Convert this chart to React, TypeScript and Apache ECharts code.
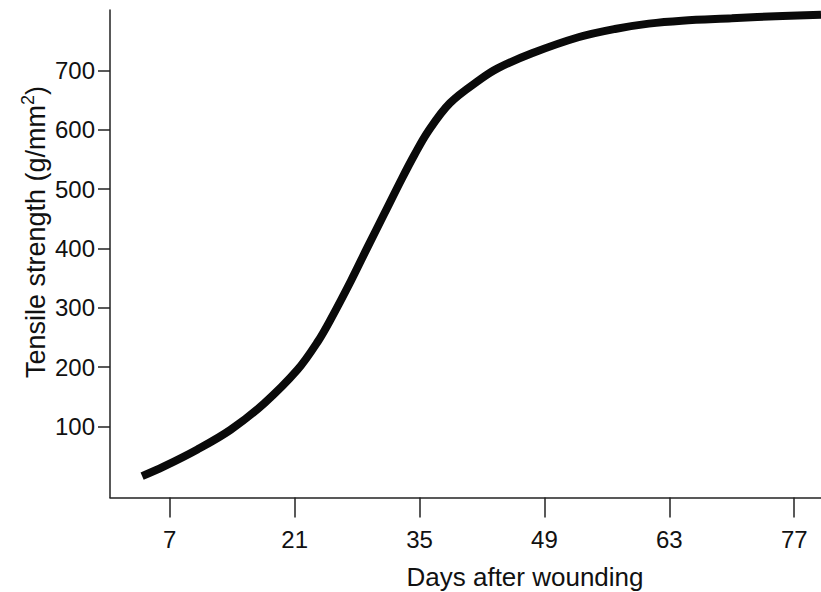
import React, { useEffect, useRef } from "react";
import * as echarts from "echarts";

const days = [3.9, 6.3, 10.1, 13.8, 17.6, 21.3, 23.6, 25.1, 27.3, 29.2, 31.1, 33.0, 34.4, 35.9, 38.4, 41.9, 43.8, 47.6, 52.8, 56.9, 60.7, 64.4, 70, 75.7, 80];
const strength = [16, 32, 61, 94, 139, 195, 243, 282, 345, 403, 460, 517, 557, 596, 645, 686, 704, 729, 756, 770, 779, 784, 788, 792, 794];
const xTicks = [7, 21, 35, 49, 63, 77];
const yTicks = [100, 200, 300, 400, 500, 600, 700];
const xTitle = "Days after wounding";
const yTitle = "Tensile strength (g/mm";

const FONT = "'Liberation Sans', Arial, Helvetica, sans-serif";

export default function App() {
  const ref = useRef<HTMLDivElement>(null);
  useEffect(() => {
    document.body.style.margin = "0";
    if (!ref.current) return;
    const chart = echarts.init(ref.current, null, { renderer: "svg" });
    chart.setOption({
      animation: false,
      backgroundColor: "#ffffff",
      grid: { left: 110, right: 0, top: 10, bottom: 94.5, containLabel: false },
      xAxis: {
        type: "value",
        min: 0.3,
        max: 80,
        axisLine: { show: true, onZero: false, lineStyle: { color: "#222", width: 1.5 } },
        axisTick: { show: true, customValues: xTicks, length: 20, lineStyle: { color: "#222", width: 1.5 } },
        axisLabel: { show: true, customValues: xTicks, margin: 30, fontSize: 24, color: "#111", fontFamily: FONT },
        splitLine: { show: false },
      },
      yAxis: {
        type: "value",
        min: -20,
        max: 802,
        axisLine: { show: true, onZero: false, lineStyle: { color: "#222", width: 1.5 } },
        axisTick: { show: true, customValues: yTicks, length: 12, lineStyle: { color: "#222", width: 1.5 } },
        axisLabel: { show: true, customValues: yTicks, margin: 15, fontSize: 24, color: "#111", fontFamily: FONT },
        splitLine: { show: false },
      },
      graphic: [
        {
          type: "text",
          x: 525,
          y: 577,
          style: {
            text: xTitle,
            fontSize: 26,
            fontFamily: FONT,
            fill: "#111",
            align: "center",
            verticalAlign: "middle",
          },
        },
        {
          type: "text",
          x: 34,
          y: 232,
          rotation: Math.PI / 2,
          style: {
            text: "{a|" + yTitle + "}{s|2}{a|)}",
            fontFamily: FONT,
            fill: "#111",
            align: "center",
            verticalAlign: "middle",
            rich: {
              a: { fontSize: 27, fontFamily: FONT, fill: "#111", verticalAlign: "bottom", lineHeight: 30 },
              s: { fontSize: 18, fontFamily: FONT, fill: "#111", verticalAlign: "top", lineHeight: 30, padding: [0, 0, 12, 0] },
            },
          },
        },
      ],
      series: [
        {
          type: "line",
          data: days.map((d, i) => [d, strength[i]]),
          smooth: 0.35,
          showSymbol: false,
          symbol: "none",
          lineStyle: { color: "#0a0a0a", width: 8, cap: "butt" },
        },
      ],
    });
    return () => chart.dispose();
  }, []);
  return <div ref={ref} style={{ width: 821, height: 592 }} />;
}
